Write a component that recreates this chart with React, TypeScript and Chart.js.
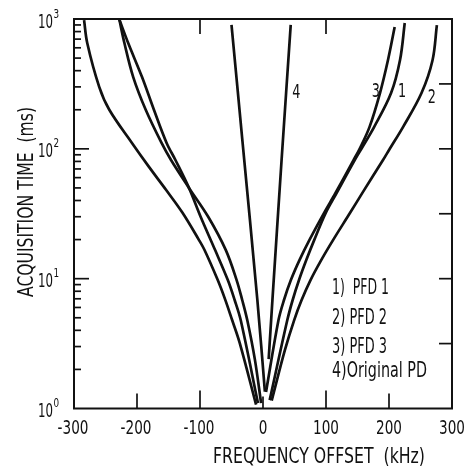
import { useEffect, useRef } from "react";
import { Chart, registerables } from "chart.js";

Chart.register(...registerables);

// [frequency offset (kHz), acquisition time (ms)]
const pfd1Left = [[-228, 990], [-220, 653], [-206, 357], [-186, 199], [-161, 111], [-146, 82], [-117.5, 50], [-87, 30], [-59, 16.6], [-42, 9.8], [-33, 6.85], [-25, 4.8], [-13, 2.4], [-3, 1.1]];
const pfd1Right = [[225, 931], [217.5, 483], [203.3, 269], [176.3, 147], [156, 99.7], [145.6, 82], [116.8, 45.7], [99.4, 32], [81.4, 19.9], [68.7, 13.9], [57.3, 9.8], [47.1, 6.85], [38.6, 4.8], [10.6, 1.16]];
const pfd2Left = [[-284, 980], [-279, 653], [-260, 300], [-244, 200], [-208, 111], [-181, 72.6], [-154, 48.4], [-128, 32.3], [-102, 20], [-93, 16.7], [-72, 9.8], [-60, 6.9], [-49, 4.8], [-37, 3.2], [-11, 1.07]];
const pfd2Right = [[276, 897], [269, 479], [251.6, 269], [222.2, 147], [201, 99.7], [190.5, 82], [158, 46], [138, 32], [111.4, 19.9], [92.4, 13.9], [75.6, 9.8], [61.3, 6.85], [49.5, 4.8], [34.6, 2.8], [13.8, 1.15]];
const pfd3Left = [[-228, 990], [-214, 653], [-192, 357], [-173, 199], [-153, 111], [-139, 82], [-117.5, 50], [-99, 30], [-76, 16.6], [-56, 9.8], [-45, 6.85], [-35.4, 4.8], [-8, 1.1]];
const pfd3Right = [[209, 867], [198.4, 483], [185.7, 269], [169, 147], [153.2, 99.7], [143.7, 82], [115.1, 45.7], [96.8, 32], [73.8, 19.9], [57.9, 13.9], [44.4, 9.8], [33.3, 6.85], [24.6, 4.8], [4.8, 1.34]];
const origLeft = [[-50, 900], [-33, 120], [-9, 6.9], [3, 1.35]];
const origRight = [[44, 900], [29.5, 82], [15, 6.9], [9, 2.4]];

const xTickValues = [-300, -200, -100, 0, 100, 200, 300];
const yDecadeValues = [1, 10, 100, 1000];
const yDecadeExponents = ["0", "1", "2", "3"];
const legendLabels = ["1)  PFD 1", "2) PFD 2", "3) PFD 3", "4)Original PD"];
const curveNumbers = ["1", "2", "3", "4"];
const xTitle = "FREQUENCY OFFSET  (kHz)";
const yTitle = "ACQUISITION TIME  (ms)";

// layout (not data)
const curveNumberAnchors = [
  [220.6, 250],
  [268, 225],
  [179, 250],
  [53, 246],
];
const legendWidths = [57, 55, 55, 95];
const legendBaselineOffsets = [275, 305, 334, 358];

const FONT = '"DejaVu Sans", "Liberation Sans", sans-serif';
const INK = "#111";

function drawScaled(ctx: CanvasRenderingContext2D, text: string, x: number, y: number, size: number, sx: number, align: CanvasTextAlign) {
  ctx.save();
  ctx.font = `${size}px ${FONT}`;
  ctx.textAlign = align;
  ctx.textBaseline = "alphabetic";
  ctx.translate(x, y);
  ctx.scale(sx, 1);
  ctx.fillText(text, 0, 0);
  ctx.restore();
}

function drawFit(ctx: CanvasRenderingContext2D, text: string, x: number, y: number, size: number, width: number, rot = 0) {
  ctx.save();
  ctx.font = `${size}px ${FONT}`;
  ctx.textAlign = "left";
  ctx.textBaseline = "alphabetic";
  const w = ctx.measureText(text).width;
  ctx.translate(x, y);
  if (rot) ctx.rotate(rot);
  ctx.scale(width / w, 1);
  ctx.fillText(text, 0, 0);
  ctx.restore();
}

const decorPlugin = {
  id: "decor",
  afterDraw(chart: any) {
    const ctx: CanvasRenderingContext2D = chart.ctx;
    const { left, right, top, bottom } = chart.chartArea;
    const xs = chart.scales.x;
    const ys = chart.scales.y;
    ctx.save();
    ctx.strokeStyle = INK;
    ctx.fillStyle = INK;
    ctx.lineWidth = 2;
    ctx.strokeRect(left, top, right - left, bottom - top);

    ctx.lineWidth = 1.7;
    const line = (x1: number, y1: number, x2: number, y2: number) => {
      ctx.beginPath();
      ctx.moveTo(x1, y1);
      ctx.lineTo(x2, y2);
      ctx.stroke();
    };
    const bottomTickLen: Record<string, number> = { "-200": 15, "-100": 18, "0": 12, "100": 18, "200": 15 };
    xTickValues.forEach((v) => {
      const len = bottomTickLen[String(v)];
      if (!len) return;
      const px = xs.getPixelForValue(v);
      line(px, bottom, px, bottom - len);
    });
    [-100, 100].forEach((v) => {
      const px = xs.getPixelForValue(v);
      line(px, top, px, top + 15);
    });
    yDecadeValues.forEach((d, i) => {
      if (i < yDecadeValues.length - 1) {
        for (let m = 2; m <= 9; m++) {
          const py = ys.getPixelForValue(d * m);
          line(left, py, left + 7, py);
        }
      }
      if (i > 0 && i < yDecadeValues.length - 1) {
        const py = ys.getPixelForValue(d);
        line(left, py, left + 15, py);
      }
    });
    [0.5, 1, 1.5, 2, 2.5].forEach((e) => {
      const py = ys.getPixelForValue(Math.pow(10, e));
      line(right, py, right - 13, py);
    });

    xTickValues.forEach((v) => {
      const px = xs.getPixelForValue(v);
      const txt = v < 0 ? "-" + String(-v) : String(v);
      drawScaled(ctx, txt, px + (v < 0 ? -1 : 0), bottom + 25.5, 20, 0.68, "center");
    });
    yDecadeValues.forEach((d, i) => {
      const py = ys.getPixelForValue(d);
      drawScaled(ctx, "10", left - 21, py + 8.5, 19, 0.62, "right");
      drawScaled(ctx, yDecadeExponents[i], left - 20.5, py - 1.5, 13, 0.68, "left");
    });

    drawFit(ctx, xTitle, 213, bottom + 54.5, 22, 212);
    drawFit(ctx, yTitle, 33, 297, 22, 190, -Math.PI / 2);

    curveNumbers.forEach((n, i) => {
      const [cx, cy] = curveNumberAnchors[i];
      drawScaled(ctx, n, xs.getPixelForValue(cx), ys.getPixelForValue(cy), 20, 0.64, "center");
    });

    legendLabels.forEach((t, i) => {
      drawFit(ctx, t, left + 258, top + legendBaselineOffsets[i], 21, legendWidths[i]);
    });
    ctx.restore();
  },
};

function toPoints(arr: number[][]) {
  return arr.map(([x, y]) => ({ x, y }));
}

export default function App() {
  const ref = useRef<HTMLCanvasElement | null>(null);
  useEffect(() => {
    document.body.style.margin = "0";
    const canvas = ref.current;
    if (!canvas) return;
    const branches = [pfd1Left, pfd1Right, pfd2Left, pfd2Right, pfd3Left, pfd3Right, origLeft, origRight];
    const chart = new Chart(canvas, {
      type: "scatter",
      data: {
        datasets: branches.map((b) => ({
          data: toPoints(b),
          showLine: true,
          borderColor: INK,
          borderWidth: 2.7,
          pointRadius: 0,
          tension: 0.35,
          fill: false,
        })),
      },
      options: {
        responsive: false,
        animation: false,
        devicePixelRatio: 1,
        layout: { padding: { left: 74, right: 20, top: 19, bottom: 61.5 } },
        scales: {
          x: { type: "linear", min: -300, max: 300, display: false },
          y: { type: "logarithmic", min: 1, max: 1000, display: false },
        },
        plugins: { legend: { display: false }, tooltip: { enabled: false } },
        events: [],
      },
      plugins: [decorPlugin],
    } as any);
    return () => chart.destroy();
  }, []);
  return (
    <div style={{ width: 472, height: 470, background: "#fff" }}>
      <canvas ref={ref} width={472} height={470} style={{ display: "block" }} />
    </div>
  );
}
